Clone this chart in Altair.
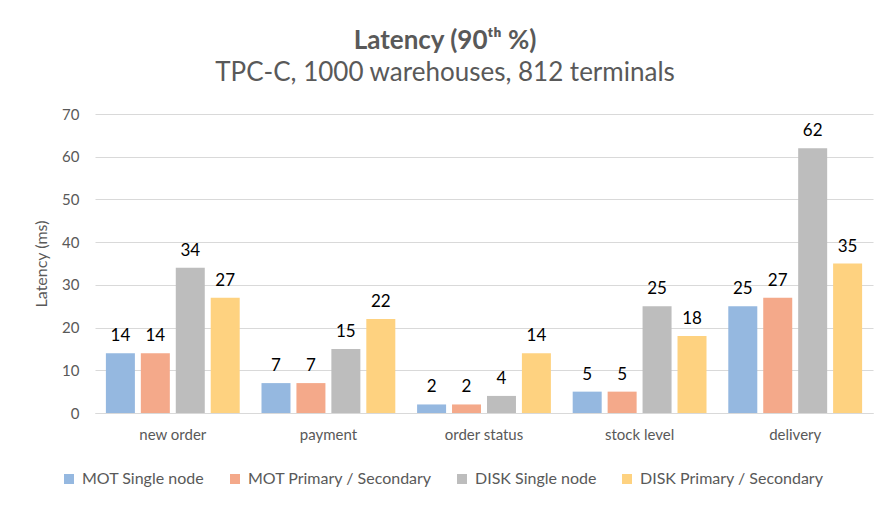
import altair as alt
import pandas as pd

categories = ["new order", "payment", "order status", "stock level", "delivery"]
series = ["MOT Single node", "MOT Primary / Secondary", "DISK Single node", "DISK Primary / Secondary"]
mot_single = [14, 7, 2, 5, 25]
mot_ps = [14, 7, 2, 5, 27]
disk_single = [34, 15, 4, 25, 62]
disk_ps = [27, 22, 14, 18, 35]
colors = ["#95B8E0", "#F4A98A", "#BDBDBD", "#FED280"]

rows = []
for s, vals in zip(series, [mot_single, mot_ps, disk_single, disk_ps]):
    for c, v in zip(categories, vals):
        rows.append({"category": c, "series": s, "value": v})
df = pd.DataFrame(rows)

FONT = "Lato"
GRAY = "#595959"

base = alt.Chart(df).encode(
    x=alt.X("category:N", sort=categories,
            scale=alt.Scale(paddingInner=0.14, paddingOuter=0.07),
            axis=alt.Axis(title=None, labelAngle=0, ticks=False, labelPadding=14,
                          labelFontSize=15, labelColor=GRAY, labelFont=FONT,
                          domainColor="#D9D9D9", grid=False)),
    xOffset=alt.XOffset("series:N", sort=series,
                        scale=alt.Scale(paddingInner=0.17, paddingOuter=0)),
)

bars = base.mark_bar().encode(
    y=alt.Y("value:Q", scale=alt.Scale(domain=[0, 70]),
            axis=alt.Axis(title="Latency (ms)", values=list(range(0, 71, 10)),
                          ticks=False, domain=False, labelPadding=16,
                          labelFontSize=15, labelColor=GRAY, labelFont=FONT,
                          titleFontSize=16, titleColor=GRAY, titleFont=FONT,
                          titleFontWeight="normal", titlePadding=12,
                          gridColor="#D9D9D9")),
    color=alt.Color("series:N", sort=series,
                    scale=alt.Scale(domain=series, range=colors),
                    legend=alt.Legend(title=None, orient="none", direction="horizontal",
                                      legendX=-34, legendY=357,
                                      symbolType="square", symbolSize=100,
                                      symbolStrokeWidth=0, labelLimit=0,
                                      labelFontSize=16, labelColor=GRAY, labelFont=FONT,
                                      columnPadding=22, labelOffset=5)),
)

labels = base.mark_text(baseline="bottom", dy=-8, fontSize=17, font=FONT, color="#000000").encode(
    y=alt.Y("value:Q"),
    text=alt.Text("value:Q"),
)

chart = alt.layer(bars, labels).properties(
    width=778, height=299,
    title=alt.TitleParams(
        text="Latency (90ᵗʰ %)",
        subtitle="TPC-C, 1000 warehouses, 812 terminals",
        fontSize=26, font=FONT, fontWeight="bold", color=GRAY,
        subtitleFontSize=26, subtitleFont=FONT, subtitleColor=GRAY,
        subtitlePadding=6, anchor="middle", dx=-39, offset=21,
    ),
    autosize=alt.AutoSizeParams(type="none"),
    padding={"left": 95, "top": 114, "right": 16, "bottom": 97},
    background="white",
).configure_view(stroke=None)

chart.save("out.html", embed_options={"renderer": "svg", "actions": False})
